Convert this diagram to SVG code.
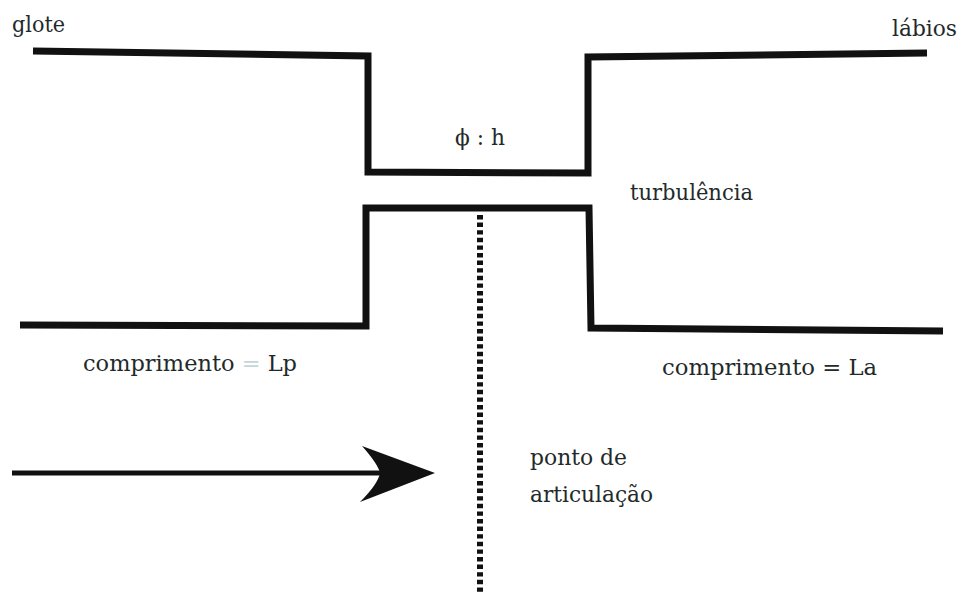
<svg xmlns="http://www.w3.org/2000/svg" width="962" height="592" viewBox="0 0 962 592">
<style>
.wall{fill:none;stroke:#111;stroke-width:7;stroke-linejoin:miter;stroke-linecap:butt}
text{font-family:'DejaVu Serif',serif;font-size:23px;fill:#1f2a2a}
</style>
<rect width="962" height="592" fill="#fff"/>
<g id="tract">
<g id="upper-wall"><path class="wall" d="M33,51 L368,56 L368,172 L588,173 L588,57 L927,53"/></g>
<g id="lower-wall"><path class="wall" d="M20,325 L366,326 L366,208 L589,208 L591,328 L943,331"/></g>
</g>
<g id="connectors">
<line x1="480" y1="215" x2="480" y2="592" stroke="#111" stroke-width="6" stroke-dasharray="4.4,3.2"/>
<line x1="12" y1="473" x2="380" y2="473" stroke="#111" stroke-width="5"/>
<path d="M435,473 L362,446 Q378,464 380,473 Q378,484 360,502 Z" fill="#111"/>
</g>
<g id="labels">
<text x="12" y="32" textLength="53" lengthAdjust="spacingAndGlyphs">glote</text>
<text x="892" y="36" textLength="65" lengthAdjust="spacingAndGlyphs">lábios</text>
<text x="455" y="145" textLength="50" lengthAdjust="spacingAndGlyphs">ϕ : h</text>
<text x="630" y="200" textLength="123" lengthAdjust="spacingAndGlyphs">turbulência</text>
<text x="83" y="371" textLength="214" lengthAdjust="spacingAndGlyphs">comprimento <tspan fill="#c4d6d6">=</tspan> Lp</text>
<text x="662" y="375" textLength="215" lengthAdjust="spacingAndGlyphs">comprimento = La</text>
<text x="530" y="465" textLength="97" lengthAdjust="spacingAndGlyphs">ponto de</text>
<text x="530" y="502" textLength="123" lengthAdjust="spacingAndGlyphs">articulação</text>
</g>
</svg>
